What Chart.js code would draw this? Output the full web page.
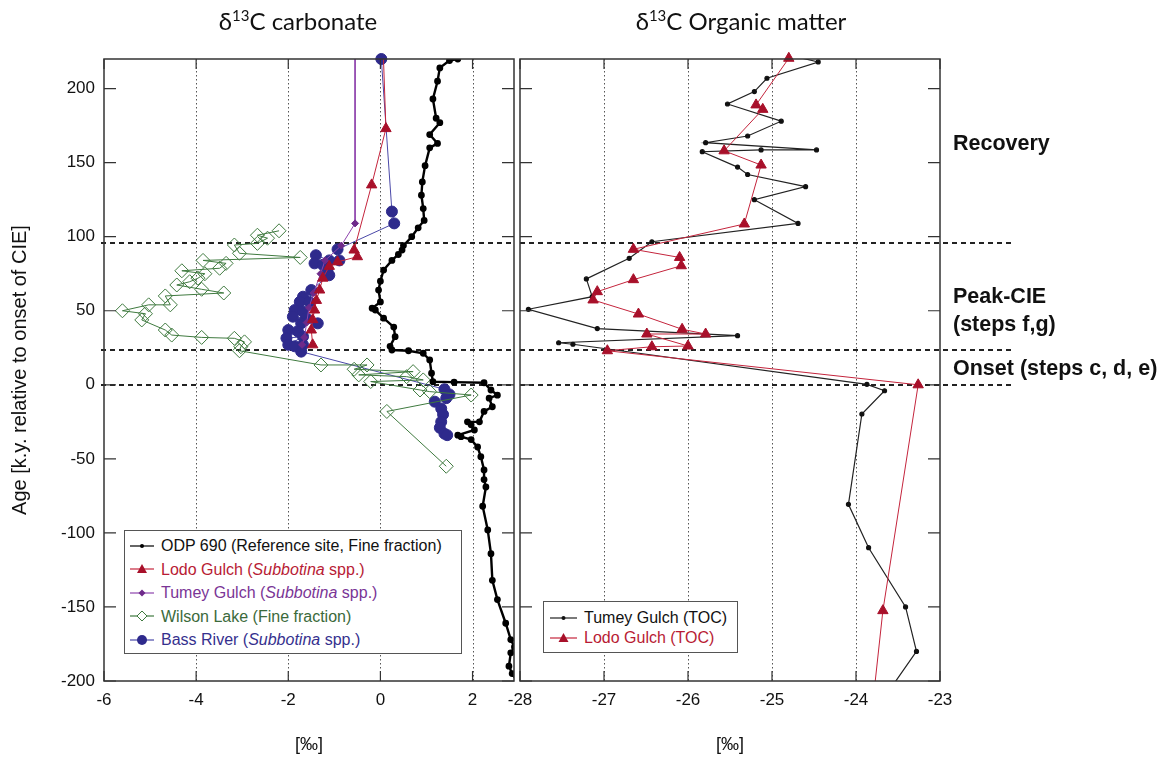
<!DOCTYPE html>
<html>
<head>
<meta charset="utf-8">
<script src="https://cdn.jsdelivr.net/npm/chart.js@4"></script>
<style>
body { margin: 0; background: #fff; }
#wrap { position: relative; width: 1168px; height: 762px; font-family: "Liberation Sans", Arial, sans-serif; color: #111; }
canvas { position: absolute; top: 0; }
#c1 { left: 0; }
#c2 { left: 490px; }
.title { position: absolute; top: 6px; width: 300px; text-align: center; font-family: Lato, sans-serif; font-size: 24px; color: #111; }
.title sup { font-size: 15px; }
.note { position: absolute; left: 953px; font-weight: bold; font-size: 21.5px; line-height: 24px; }
.legend { position: absolute; border: 1.5px solid #555; background: #fff; font-size: 16px; box-sizing: border-box; }
.legend div { white-space: nowrap; }
.legend svg { vertical-align: middle; margin-right: 7px; position: relative; top: -1px; }
</style>
</head>
<body>
<div id="wrap">
  <canvas id="c1" width="522" height="762"></canvas>
  <canvas id="c2" width="678" height="762"></canvas>

  <div class="title" style="left:148px">&delta;<sup>13</sup>C carbonate</div>
  <div class="title" style="left:591px">&delta;<sup>13</sup>C Organic matter</div>

  <div class="note" style="top:131px">Recovery</div>
  <div class="note" style="top:284px">Peak-CIE</div>
  <div class="note" style="top:312px">(steps f,g)</div>
  <div class="note" style="top:356px">Onset (steps c, d, e)</div>

  <div class="legend" style="left:124px;top:530px;width:338px;height:124px;padding:3px 0 0 5px">
    <div style="height:23.5px;line-height:23px;color:#111"><svg width="24" height="12"><line x1="0" y1="6" x2="24" y2="6" stroke="#000" stroke-width="1.2"/><circle cx="12" cy="6" r="2" fill="#000"/></svg>ODP 690 (Reference site, Fine fraction)</div>
    <div style="height:23.5px;line-height:23px;color:#b81b34"><svg width="24" height="12"><line x1="0" y1="6" x2="24" y2="6" stroke="#c4243c" stroke-width="1.2"/><polygon points="12,1 17,10 7,10" fill="#a8102a"/></svg>Lodo Gulch (<i>Subbotina</i> spp.)</div>
    <div style="height:23.5px;line-height:23px;color:#7a3596"><svg width="24" height="12"><line x1="0" y1="6" x2="24" y2="6" stroke="#8e44ad" stroke-width="1.2"/><polygon points="12,2.5 15.5,6 12,9.5 8.5,6" fill="#6e2a8a"/></svg>Tumey Gulch (<i>Subbotina</i> spp.)</div>
    <div style="height:23.5px;line-height:23px;color:#3b6a3b"><svg width="24" height="12"><line x1="0" y1="6" x2="24" y2="6" stroke="#3f7a3f" stroke-width="1.2"/><polygon points="12,1 17,6 12,11 7,6" fill="#fff" stroke="#3f7a3f"/></svg>Wilson Lake (Fine fraction)</div>
    <div style="height:23.5px;line-height:23px;color:#35308e"><svg width="24" height="12"><line x1="0" y1="6" x2="24" y2="6" stroke="#4a48a8" stroke-width="1.2"/><circle cx="12" cy="6" r="5" fill="#2e2a8c"/></svg>Bass River (<i>Subbotina</i> spp.)</div>
  </div>

  <div class="legend" style="left:543px;top:601px;width:195px;height:52px;padding:6px 0 0 6px">
    <div style="height:20px;line-height:20px;color:#111"><svg width="27" height="12"><line x1="0" y1="6" x2="27" y2="6" stroke="#222" stroke-width="1.2"/><circle cx="13.5" cy="6" r="2" fill="#111"/></svg>Tumey Gulch (TOC)</div>
    <div style="height:20px;line-height:20px;color:#b81b34"><svg width="27" height="12"><line x1="0" y1="6" x2="27" y2="6" stroke="#c4243c" stroke-width="1.2"/><polygon points="13.5,1 18.5,10 8.5,10" fill="#a8102a"/></svg>Lodo Gulch (TOC)</div>
  </div>
</div>

<script>
// axis ticks and horizontal boundaries (k.y.)
const carbXTicks = [-6, -4, -2, 0, 2];
const orgXTicks = [-28, -27, -26, -25, -24, -23];
const ageTicks = [200, 150, 100, 50, 0, -50, -100, -150, -200];
const boundaryAges = [96, 23.5, 0];

// --- d13C carbonate ---
const odpD13C = [1.68, 1.50, 1.29, 1.24, 1.14, 1.21, 1.29, 1.07, 1.24, 1.07, 0.97, 0.91, 0.89, 0.93, 0.95, 0.82, 0.68, 0.50, 0.47, 0.39,
  0.25, 0.07, 0.00, -0.04, 0.00, -0.18, -0.11, 0.07, 0.29, 0.32, 0.21, 0.25, 0.61, 0.93, 1.07, 1.11, 1.14, 1.60, 2.25, 2.40,
  2.54, 2.36, 2.43, 2.25, 2.15, 1.89, 1.97, 2.04, 1.68, 1.75, 1.97, 2.11, 2.18, 2.25, 2.25, 2.29, 2.22, 2.33, 2.40, 2.43,
  2.54, 2.72, 2.83, 2.91, 2.83, 2.79, 2.86, 2.97];
const odpAge = [220, 219, 214, 205, 193, 180, 177, 169, 163, 160, 148, 137, 128, 119, 111, 106, 100, 94, 91, 88,
  84, 77.5, 70, 64, 56, 51.7, 50.5, 45, 39, 32.5, 26, 23.5, 23, 21.3, 16.8, 7.8, 2.1, 1.8, 1.4, -3.5,
  -7, -9, -14.8, -18, -25, -25, -27, -30.5, -34, -35, -37, -42, -48.5, -57.5, -64, -69, -82, -98, -114, -132,
  -145, -161, -172, -177, -181, -190, -195, -200];

const lodoCarbD13C = [0.05, 0.12, -0.19, -0.57, -0.50, -0.93, -1.11, -1.25, -1.32, -1.39, -1.43, -1.47, -1.50, -1.47];
const lodoCarbAge = [235, 173, 135, 91, 86.5, 83, 80, 72, 64, 57, 50.5, 44, 37, 27];

const tumeyCarbD13C = [-0.55, -0.55, -0.85, -1.20, -1.30, -1.45, -1.55, -1.60, -1.65, -1.70];
const tumeyCarbAge = [235, 109, 94, 84, 75, 62, 52, 42, 32, 27];

const wilsonD13C = [-2.20, -2.67, -2.45, -2.67, -3.17, -3.06, -1.74, -3.85, -3.35, -3.49, -4.31, -3.81, -3.96, -4.14, -4.42,
  -3.88, -3.40, -4.67, -4.56, -5.03, -5.60, -5.10, -5.18, -4.67, -4.53, -3.88, -3.17, -2.95, -3.03, -3.06,
  -1.29, -0.29, -0.57, 0.71, -0.47, 0.57, 0.93, -0.21, 0.86, 1.07, 1.97, 0.14, 1.43];
const wilsonAge = [104, 101, 99, 95.5, 94.4, 88.8, 86, 84, 82, 78.7, 77, 75, 72, 69.6, 67.4,
  64.5, 62, 60, 54, 54, 50, 48, 43.8, 37, 33.6, 32, 31.4, 29, 25.7, 23,
  13.4, 13.4, 10.5, 8.9, 6.7, 5.5, 3.3, 2.2, -3.5, -4.6, -6.9, -18, -55];

const bassD13C = [0.02, 0.25, 0.30, -0.93, -0.89, -1.11, -1.40, -1.43, -1.25, -1.15, -1.11, -1.50, -1.68, -1.75, -1.54,
  -1.86, -1.68, -1.90, -1.61, -1.36, -1.72, -2.00, -1.79, -2.04, -1.68, -2.00, -1.86, -1.68, -1.72,
  1.39, 1.50, 1.43, 1.18, 1.32, 1.36, 1.32, 1.29, 1.39, 1.45];
const bassAge = [220, 117, 109, 91.5, 84, 84, 87.5, 82, 81, 77.5, 74, 64, 59.5, 56, 56,
  50.5, 49.5, 46, 45, 41.5, 41.5, 37, 36, 31.5, 32.5, 27, 26, 27, 22.4,
  -3, -6.5, -9, -11.4, -16, -20, -25, -29, -33, -34];

// --- d13C organic matter ---
const tumeyTocD13C = [-24.75, -24.45, -25.06, -25.21, -25.53, -24.89, -25.29, -25.79, -24.47, -25.13, -25.83, -25.41, -25.29,
  -24.60, -25.21, -24.69, -26.43, -26.70, -27.21, -27.14, -27.90, -27.08, -25.41, -27.54, -27.37,
  -23.87, -23.66, -23.93, -24.09, -23.85, -23.41, -23.28, -23.60];
const tumeyTocAge = [222, 218, 207, 198, 189.6, 178, 168, 163.5, 158.6, 158.6, 157.4, 147, 142,
  133.8, 125, 109, 96.6, 85.4, 71.5, 59.5, 51, 38, 33.2, 28.4, 27.4,
  0.3, -4, -19.7, -80.7, -110, -150, -180, -206];

const lodoTocD13C = [-24.80, -25.19, -25.11, -25.57, -25.13, -25.33, -26.65, -26.10, -26.08, -26.65, -27.08, -27.13,
  -26.59, -26.07, -25.79, -26.49, -26.00, -26.43, -26.96, -23.26, -23.68, -23.79];
const lodoTocAge = [220.5, 189, 186, 158, 148.4, 108.6, 91.5, 86, 80.4, 71, 62.9, 57.3,
  47.8, 37.5, 34.3, 34.3, 26.2, 25.7, 23, 0, -152.5, -210];

function pts(xs, ys) {
  return xs.map((x, i) => ({ x: x, y: ys[i] }));
}

Chart.defaults.font.family = '"Liberation Sans", Arial, sans-serif';
Chart.defaults.color = '#111';

// frame, dotted grid, inward ticks and the dashed boundaries
const framePlugin = {
  id: 'frame',
  beforeDatasetsDraw(chart, args, opts) {
    const { ctx, chartArea: a, scales } = chart;
    const x = scales.x, y = scales.y;
    ctx.save();
    ctx.strokeStyle = '#555';
    ctx.lineWidth = 1;
    ctx.setLineDash([1.5, 2.5]);
    opts.grid.forEach(v => {
      const px = Math.round(x.getPixelForValue(v)) + 0.5;
      ctx.beginPath(); ctx.moveTo(px, a.top); ctx.lineTo(px, a.bottom); ctx.stroke();
    });
    ctx.strokeStyle = '#222';
    ctx.lineWidth = 2;
    ctx.setLineDash([5, 4]);
    boundaryAges.forEach(v => {
      const py = Math.round(y.getPixelForValue(v));
      ctx.beginPath(); ctx.moveTo(a.left - opts.extendLeft, py); ctx.lineTo(a.right + opts.extend, py); ctx.stroke();
    });
    ctx.restore();
  },
  afterDraw(chart, args, opts) {
    const { ctx, chartArea: a, scales } = chart;
    const x = scales.x, y = scales.y;
    ctx.save();
    ctx.strokeStyle = '#333';
    ctx.lineWidth = 1.5;
    ctx.strokeRect(a.left, a.top, a.right - a.left, a.bottom - a.top);
    ctx.lineWidth = 1.2;
    opts.xTicks.forEach(v => {
      const px = x.getPixelForValue(v);
      ctx.beginPath();
      ctx.moveTo(px, a.bottom); ctx.lineTo(px, a.bottom - 10);
      ctx.moveTo(px, a.top); ctx.lineTo(px, a.top + 10);
      ctx.stroke();
    });
    ageTicks.forEach(v => {
      const py = y.getPixelForValue(v);
      ctx.beginPath();
      ctx.moveTo(a.left, py); ctx.lineTo(a.left + 12, py);
      ctx.moveTo(a.right, py); ctx.lineTo(a.right - 12, py);
      ctx.stroke();
    });
    ctx.restore();
  }
};

function xAxis(min, max, ticks) {
  return {
    type: 'linear', min: min, max: max,
    afterBuildTicks: s => { s.ticks = ticks.map(v => ({ value: v })); },
    afterFit: s => { s.height = 81; },
    grid: { display: false, drawTicks: false },
    border: { display: false },
    ticks: { font: { size: 17 }, padding: 9, autoSkip: false, maxRotation: 0 },
    title: { display: true, text: '[‰]', font: { size: 18 }, padding: { top: 0, bottom: 6 } }
  };
}

const common = {
  responsive: false,
  animation: false,
  events: [],
  plugins: { legend: { display: false }, tooltip: { enabled: false } }
};

new Chart(document.getElementById('c1'), {
  type: 'scatter',
  data: {
    datasets: [
      { label: 'Lodo Gulch', data: pts(lodoCarbD13C, lodoCarbAge), showLine: true,
        borderColor: '#c4243c', borderWidth: 1, pointStyle: 'triangle', pointRadius: 6,
        pointBackgroundColor: '#a8102a', pointBorderColor: '#a8102a', clip: 0 },
      { label: 'Tumey Gulch', data: pts(tumeyCarbD13C, tumeyCarbAge), showLine: true,
        borderColor: '#8e44ad', borderWidth: 1, pointStyle: 'rectRot', pointRadius: 3.5,
        pointBackgroundColor: '#6e2a8a', pointBorderColor: '#6e2a8a', clip: 0 },
      { label: 'ODP 690', data: pts(odpD13C, odpAge), showLine: true,
        borderColor: '#000', borderWidth: 2.4, pointRadius: 2.2,
        pointBackgroundColor: '#000', pointBorderColor: '#000', clip: 0 },
      { label: 'Wilson Lake', data: pts(wilsonD13C, wilsonAge), showLine: true,
        borderColor: '#3f7a3f', borderWidth: 1, pointStyle: 'rectRot', pointRadius: 7,
        pointBackgroundColor: 'rgba(255,255,255,0)', pointBorderColor: '#3f7a3f', pointBorderWidth: 1 },
      { label: 'Bass River', data: pts(bassD13C, bassAge), showLine: true,
        borderColor: '#4a48a8', borderWidth: 1, pointStyle: 'circle', pointRadius: 5.5,
        pointBackgroundColor: '#2e2a8c', pointBorderColor: '#2e2a8c',
        clip: { left: 0, top: 8, right: 0, bottom: 0 } }
    ]
  },
  options: Object.assign({}, common, {
    layout: { padding: { top: 59, left: 0, right: 2, bottom: 0 } },
    scales: {
      x: xAxis(-6, 2.9, carbXTicks),
      y: {
        type: 'linear', min: -200, max: 220,
        afterBuildTicks: s => { s.ticks = ageTicks.map(v => ({ value: v })); },
        afterFit: s => { s.width = 104; },
        grid: { display: false, drawTicks: false },
        border: { display: false },
        ticks: { font: { size: 17 }, padding: 9 },
        title: { display: true, text: 'Age [k.y. relative to onset of CIE]', font: { size: 20 }, padding: { top: 8 } }
      }
    },
    plugins: Object.assign({}, common.plugins, {
      frame: { grid: [-4, -2, 0, 2], xTicks: carbXTicks, extend: 0, extendLeft: 3 }
    })
  }),
  plugins: [framePlugin]
});

new Chart(document.getElementById('c2'), {
  type: 'scatter',
  data: {
    datasets: [
      { label: 'Lodo Gulch (TOC)', data: pts(lodoTocD13C, lodoTocAge), showLine: true,
        borderColor: '#c4243c', borderWidth: 1, pointStyle: 'triangle', pointRadius: 6,
        pointBackgroundColor: '#a8102a', pointBorderColor: '#a8102a',
        clip: { left: 0, top: 8, right: 0, bottom: 0 } },
      { label: 'Tumey Gulch (TOC)', data: pts(tumeyTocD13C, tumeyTocAge), showLine: true,
        borderColor: '#222', borderWidth: 1.2, pointRadius: 2,
        pointBackgroundColor: '#111', pointBorderColor: '#111', clip: 0 }
    ]
  },
  options: Object.assign({}, common, {
    layout: { padding: { top: 59, left: 30, right: 228, bottom: 0 } },
    scales: {
      x: xAxis(-28, -23, orgXTicks),
      y: { type: 'linear', min: -200, max: 220, display: false }
    },
    plugins: Object.assign({}, common.plugins, {
      frame: { grid: [-27, -26, -25, -24], xTicks: orgXTicks, extend: 75, extendLeft: 0 }
    })
  }),
  plugins: [framePlugin]
});
</script>
</body>
</html>
